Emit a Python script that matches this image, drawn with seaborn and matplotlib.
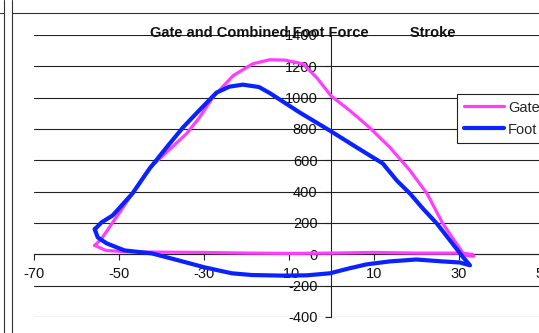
import matplotlib
matplotlib.use("Agg")
import matplotlib.pyplot as plt
from matplotlib.lines import Line2D
import pandas as pd
import seaborn as sns

# Gate force loop (stroke, force) traced in drawing order
gate_stroke = [-55.6, -54.0, -50.2, -46.7, -42.7, -38.0, -34.0, -31.0, -27.9, -23.1,
               -18.5, -14.5, -11.0, -6.7, -3.4, 0.0, 4.4, 9.0, 13.8,
               18.5, 22.5, 26.2, 31.0, 33.2, 33.5, 32.0, 30.0, 20.0, 10.0,
               0.0, -10.0, -20.0, -30.0, -40.0, -48.0, -53.0, -55.6]
gate_force = [57, 100, 250, 390, 550, 670, 771, 873, 1000, 1140,
              1216, 1242, 1240, 1216, 1127, 1010, 917, 809, 682,
              535, 388, 197, 6, 0, -12, -8, 8, 8, 12,
              8, 6, 8, 12, 14, 16, 25, 57]

# Combined foot force loop (stroke, force)
foot_stroke = [-55.6, -54.0, -51.4, -46.7, -42.7, -38.5, -34.9, -31.0, -27.0, -24.0,
               -20.8, -17.0, -14.5, -7.4, -0.35, 6.0, 12.1, 15.4, 18.5, 21.5,
               24.8, 27.9, 31.0, 32.6, 30.2, 26.0, 20.0, 13.8, 8.3, 4.3,
               -0.3, -5.8, -11.4, -18.7, -23.4, -29.8, -36.0, -42.2, -48.6, -52.8,
               -54.9, -55.6]
foot_force = [160, 204, 248, 390, 548, 690, 809, 920, 1032, 1070,
              1083, 1068, 1030, 905, 790, 682, 580, 471, 388, 293,
              197, 89, -19, -70, -52, -45, -33, -45, -64, -89,
              -121, -134, -136, -132, -121, -83, -38, 6, 25, 70,
              108, 160]

series_names = ["Gate", "Foot"]
series_colors = ["#ff3dff", "#0a22ff"]
series_widths = [2.3, 3.0]

x_ticks = [-70, -50, -30, -10, 10, 30, 50]
y_ticks = [-400, -200, 0, 200, 400, 600, 800, 1000, 1200, 1400]

title_text = "Gate and Combined Foot Force          Stroke"

df = pd.concat([
    pd.DataFrame({"stroke": gate_stroke, "force": gate_force, "series": series_names[0],
                  "order": range(len(gate_stroke))}),
    pd.DataFrame({"stroke": foot_stroke, "force": foot_force, "series": series_names[1],
                  "order": range(len(foot_stroke))}),
], ignore_index=True)

sns.set_theme(style="white")
plt.rcParams["font.family"] = ["Liberation Sans", "DejaVu Sans"]

W, H = 539, 333
fig = plt.figure(figsize=(W / 100, H / 100), dpi=100)
fig.patch.set_facecolor("white")

# plot area runs past the right edge of the canvas
ax_left, ax_right, ax_top, ax_bottom = 33.5, 544.0, 35.0, 317.0
ax = fig.add_axes([ax_left / W, 1 - ax_bottom / H,
                   (ax_right - ax_left) / W, (ax_bottom - ax_top) / H])
ax.set_facecolor("white")

for name, color, lw in zip(series_names, series_colors, series_widths):
    sub = df[df["series"] == name]
    sns.lineplot(data=sub, x="stroke", y="force", sort=False, estimator=None,
                 color=color, linewidth=lw, ax=ax, label=name,
                 solid_capstyle="round", solid_joinstyle="round", zorder=3)

ax.set_xlim(-70, 50)
ax.set_ylim(-400, 1400)
ax.set_xticks(x_ticks)
ax.set_yticks(y_ticks)
ax.set_xticklabels([str(v) for v in x_ticks])
ax.set_yticklabels([str(v) for v in y_ticks])
ax.set_xlabel("")
ax.set_ylabel("")

# horizontal gridlines only
ax.yaxis.grid(True, color="#222222", linewidth=0.8)
ax.xaxis.grid(False)

# axes cross at the origin
for side in ["top", "right"]:
    ax.spines[side].set_visible(False)
ax.spines["left"].set_position(("data", 0))
ax.spines["bottom"].set_position(("data", 0))
for side in ["left", "bottom"]:
    ax.spines[side].set_color("#222222")
    ax.spines[side].set_linewidth(0.8)

ax.tick_params(axis="x", direction="out", length=4, width=0.8, color="#222222",
               pad=5, labelsize=10.5, labelcolor="#111111", bottom=True)
ax.tick_params(axis="y", direction="out", length=4, width=0.8, color="#222222",
               pad=6, labelsize=10.5, labelcolor="#111111", left=True)

leg = ax.legend(loc="upper left", bbox_to_anchor=(457 / W, 1 - 94 / H),
                bbox_transform=fig.transFigure, frameon=True, fancybox=False,
                shadow=False, fontsize=10.5, handlelength=2.8, handletextpad=0.25,
                borderpad=0.45, labelspacing=0.55, borderaxespad=0.0)
leg.get_frame().set_edgecolor("#222222")
leg.get_frame().set_linewidth(0.8)
leg.get_frame().set_facecolor("white")
leg.get_frame().set_alpha(1.0)
for line in leg.get_lines():
    line.set_solid_capstyle("round")

fig.text(303 / W, 1 - 33 / H, title_text, ha="center", va="center",
         fontsize=10.5, fontweight="bold", color="#111111")

# surrounding sheet borders
border = dict(color="#333333", linewidth=0.8, transform=fig.transFigure)
fig.add_artist(Line2D([3.5 / W, 3.5 / W], [0, 1], **border))
fig.add_artist(Line2D([11.5 / W, 11.5 / W], [0, 1], **border))
fig.add_artist(Line2D([0, 3.5 / W], [1 - 12.5 / H, 1 - 12.5 / H], **border))
fig.add_artist(Line2D([11.5 / W, 1], [1 - 12.5 / H, 1 - 12.5 / H], **border))

fig.savefig("out.png", dpi=100, facecolor="white")
